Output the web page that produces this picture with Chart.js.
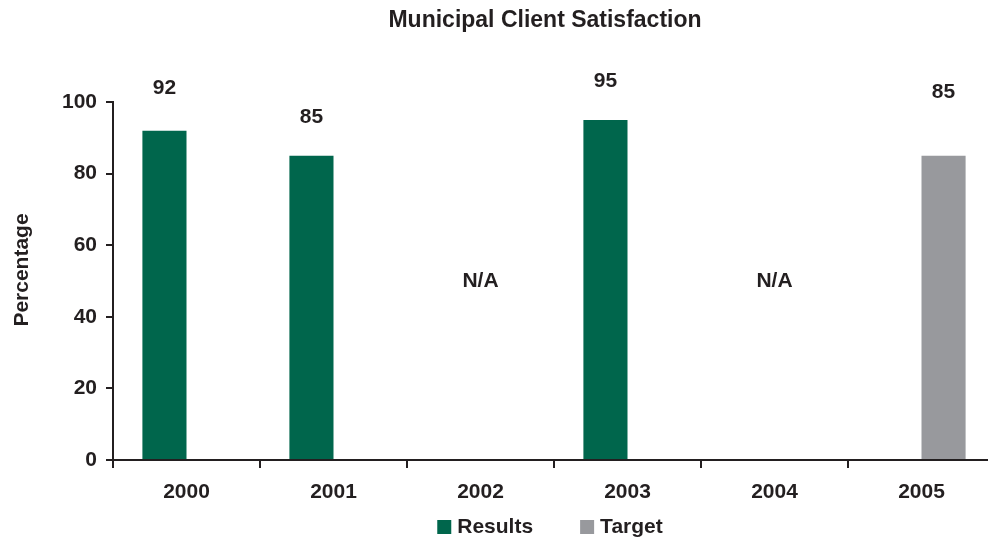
<!DOCTYPE html>
<html>
<head>
<meta charset="utf-8">
<script src="https://cdn.jsdelivr.net/npm/chart.js@4"></script>
<style>
  html, body { margin: 0; padding: 0; background: #fff; overflow: hidden; }
  #wrap { width: 988px; height: 540px; overflow: hidden; }
</style>
</head>
<body>
<div id="wrap"><canvas id="satisfaction" width="996" height="540"></canvas></div>
<script>
const years = ["2000", "2001", "2002", "2003", "2004", "2005"];
const results = [92, 85, null, 95, null, null];
const target = [null, null, null, null, null, 85];
const missingText = "N/A";
const chartTitle = "Municipal Client Satisfaction";
const yTitle = "Percentage";

const ink = "#231F20";
const family = "'Liberation Sans', Arial, sans-serif";
const font = { family: family, size: 21, weight: "bold" };
const cssFont = "bold 21px " + family;

// value labels above bars, "N/A" where a year has no figure
const valueLabels = {
  id: "valueLabels",
  afterDatasetsDraw(chart, args, opts) {
    const c = chart.ctx;
    const y = chart.scales.y;
    const x = chart.scales.x;
    c.save();
    c.font = cssFont;
    c.fillStyle = ink;
    c.textAlign = "center";
    c.textBaseline = "middle";
    years.forEach((yr, i) => {
      let dsIndex = results[i] != null ? 0 : target[i] != null ? 1 : -1;
      if (dsIndex < 0) {
        c.fillText(missingText, x.getPixelForValue(i), y.getPixelForValue(50));
        return;
      }
      const bar = chart.getDatasetMeta(dsIndex).data[i];
      const v = chart.data.datasets[dsIndex].data[i];
      c.fillText(String(v), bar.x, bar.y - opts.offsets[i]);
    });
    c.restore();
  },
};

// title, y axis title and legend row, placed by hand
const frameText = {
  id: "frameText",
  afterDraw(chart, args, opts) {
    const c = chart.ctx;
    const area = chart.chartArea;
    const mid = (area.left + area.right) / 2;
    c.save();
    c.fillStyle = ink;
    c.textBaseline = "middle";

    c.textAlign = "center";
    c.font = "bold 23px " + family;
    c.fillText(chartTitle, mid - opts.titleShift, opts.titleY);

    c.font = cssFont;
    c.save();
    c.translate(opts.yTitleX, (area.top + area.bottom) / 2 - opts.yTitleShift);
    c.rotate(-Math.PI / 2);
    c.fillText(yTitle, 0, 0);
    c.restore();

    c.textAlign = "left";
    const box = 14, gapText = 6, gapItem = 47;
    const items = chart.data.datasets.map(ds => ({
      text: ds.label, color: ds.backgroundColor, w: c.measureText(ds.label).width,
    }));
    let total = items.reduce((s, it) => s + box + gapText + it.w, 0) + gapItem * (items.length - 1);
    let x = mid - total / 2 - opts.legendShift;
    items.forEach(it => {
      c.fillStyle = it.color;
      c.fillRect(x, opts.legendY - box / 2, box, box);
      c.fillStyle = ink;
      c.fillText(it.text, x + box + gapText, opts.legendY);
      x += box + gapText + it.w + gapItem;
    });
    c.restore();
  },
};

new Chart(document.getElementById("satisfaction"), {
  type: "bar",
  data: {
    labels: years,
    datasets: [
      { label: "Results", data: results, backgroundColor: "#00664C" },
      { label: "Target", data: target, backgroundColor: "#98999D" },
    ],
  },
  options: {
    responsive: false,
    animation: false,
    categoryPercentage: 0.6,
    barPercentage: 1,
    layout: { padding: { left: 0, right: 1, top: 102, bottom: 0 } },
    scales: {
      x: {
        grid: { display: true, drawOnChartArea: false, tickLength: 8, color: ink, lineWidth: 2 },
        border: { color: ink, width: 2 },
        ticks: { color: ink, font: font, padding: 12 },
        afterFit(scale) { scale.height = 80; },
      },
      y: {
        min: 0,
        max: 100,
        ticks: { stepSize: 20, color: ink, font: font, padding: 9 },
        grid: { display: true, drawOnChartArea: false, tickLength: 7, color: ink, lineWidth: 2 },
        border: { color: ink, width: 2 },
        afterFit(scale) { scale.width = 113; },
      },
    },
    plugins: {
      title: { display: false },
      legend: { display: false },
      tooltip: { enabled: false },
      valueLabels: { offsets: [42, 38, 0, 39, 0, 63] },
      frameText: {
        titleY: 21, titleShift: 9,
        yTitleX: 22, yTitleShift: 11,
        legendY: 527, legendShift: 4,
      },
    },
  },
  plugins: [valueLabels, frameText],
});
</script>
</body>
</html>
